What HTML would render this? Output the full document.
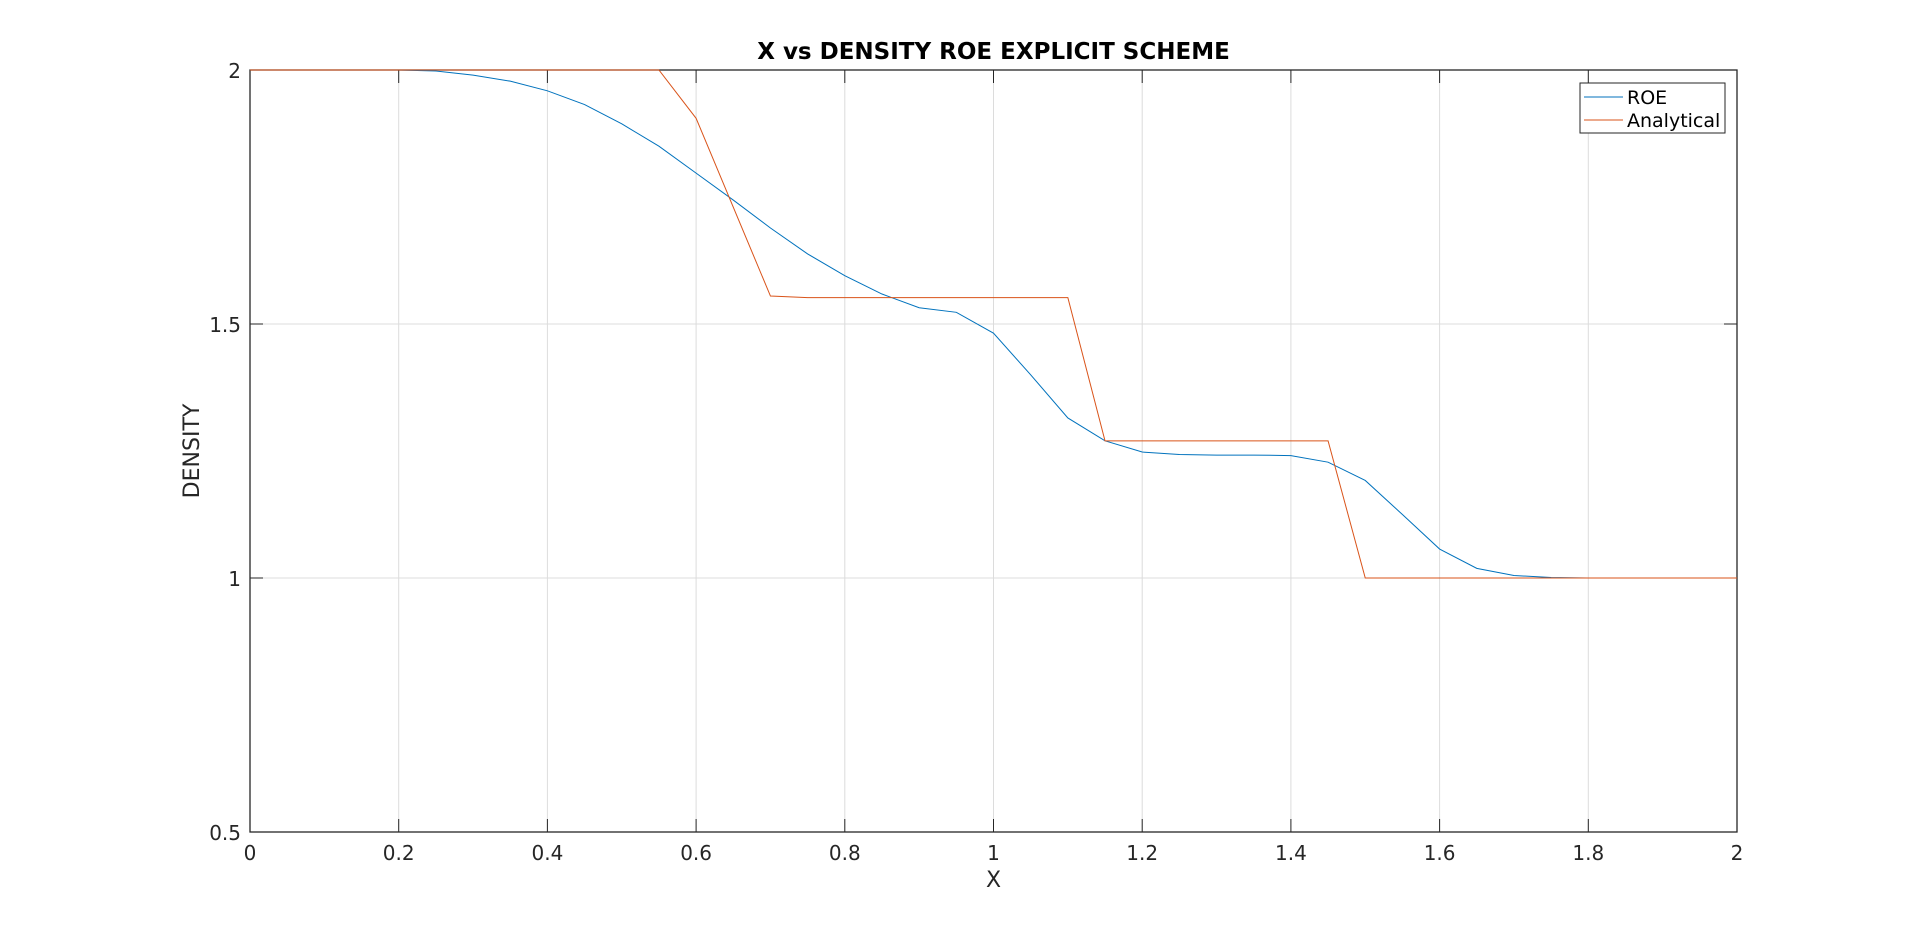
<!DOCTYPE html>
<html><head><meta charset="utf-8"><style>
body{margin:0;background:#fff;}
svg{display:block;font-family:"DejaVu Sans","Liberation Sans",sans-serif;}
</style></head><body>
<svg id="chart" width="1920" height="936"></svg>
<script>
const xTicks=[0,0.2,0.4,0.6,0.8,1,1.2,1.4,1.6,1.8,2];
const xTickLabels=["0","0.2","0.4","0.6","0.8","1","1.2","1.4","1.6","1.8","2"];
const yTicks=[0.5,1,1.5,2];
const yTickLabels=["0.5","1","1.5","2"];
const roeX=[0,0.05,0.1,0.15,0.2,0.25,0.3,0.35,0.4,0.45,0.5,0.55,0.6,0.65,0.7,0.75,0.8,0.85,0.9,0.95,1,1.05,1.1,1.15,1.2,1.25,1.3,1.35,1.4,1.45,1.5,1.55,1.6,1.65,1.7,1.75,1.8,1.85,1.9,1.95,2];
const roeY=[2,2,2,2,2,1.998,1.99,1.978,1.959,1.932,1.894,1.85,1.797,1.744,1.689,1.638,1.595,1.559,1.532,1.523,1.482,1.4,1.315,1.27,1.248,1.243,1.242,1.242,1.241,1.228,1.192,1.125,1.057,1.019,1.005,1.001,1,1,1,1,1];
const anaX=[0,0.55,0.6,0.7,0.75,1.1,1.15,1.45,1.5,2];
const anaY=[2,2,1.905,1.555,1.552,1.552,1.27,1.27,1,1];

const L=250,R=1737,T=70,B=832;
const sx=v=>L+(v-0)/(2-0)*(R-L);
const sy=v=>B-(v-0.5)/(2-0.5)*(B-T);
const svg=document.getElementById('chart');
const NS='http://www.w3.org/2000/svg';
function mk(tag,attrs,parent){const e=document.createElementNS(NS,tag);for(const k in attrs)e.setAttribute(k,attrs[k]);(parent||svg).appendChild(e);return e;}

xTicks.forEach((v,i)=>{
  const g=mk('line',{x1:sx(v),x2:sx(v),y1:T,y2:B,stroke:'#dcdcdc','stroke-width':1});
  
  
  mk('line',{x1:sx(v),x2:sx(v),y1:B,y2:B-13,stroke:'#262626'});
  mk('line',{x1:sx(v),x2:sx(v),y1:T,y2:T+13,stroke:'#262626'});
  const t=mk('text',{x:sx(v),y:B+28,'text-anchor':'middle','font-size':'20',fill:'#262626'});
  t.textContent=xTickLabels[i];
  
  
});
yTicks.forEach((v,i)=>{
  const g=mk('line',{x1:L,x2:R,y1:sy(v),y2:sy(v),stroke:'#dcdcdc','stroke-width':1});
  
  
  mk('line',{x1:L,x2:L+13,y1:sy(v),y2:sy(v),stroke:'#262626'});
  mk('line',{x1:R,x2:R-13,y1:sy(v),y2:sy(v),stroke:'#262626'});
  const t=mk('text',{x:L-9,y:sy(v)+8,'text-anchor':'end','font-size':'20',fill:'#262626'});
  t.textContent=yTickLabels[i];
  
  
});
const box=mk('rect',{x:L,y:T,width:R-L,height:B-T,fill:'none',stroke:'#262626','stroke-width':1.3});



const p1=mk('polyline',{points:roeX.map((x,i)=>sx(x)+','+sy(roeY[i])).join(' '),fill:'none',stroke:'#0072bd','stroke-width':1});


const p2=mk('polyline',{points:anaX.map((x,i)=>sx(x)+','+sy(anaY[i])).join(' '),fill:'none',stroke:'#d95319','stroke-width':1});



const title=mk('text',{x:(L+R)/2,y:59,'text-anchor':'middle','font-size':'23','font-weight':'bold',fill:'#000'});
title.textContent='X vs DENSITY ROE EXPLICIT SCHEME';


const xl=mk('text',{x:(L+R)/2,y:887,'text-anchor':'middle','font-size':'22',fill:'#262626'});
xl.textContent='X';


const yl=mk('text',{x:0,y:0,'text-anchor':'middle','font-size':'22',fill:'#262626',transform:'translate(199,'+((T+B)/2)+') rotate(-90)'});
yl.textContent='DENSITY';



const lg=mk('g',{});


mk('rect',{x:1580,y:83,width:145,height:50,fill:'#fff',stroke:'#262626','stroke-width':1},lg);
mk('line',{x1:1584,x2:1623,y1:97,y2:97,stroke:'#0072bd'},lg);
mk('line',{x1:1584,x2:1623,y1:120,y2:120,stroke:'#d95319'},lg);
const t1=mk('text',{x:1627,y:104,'font-size':'19',fill:'#000'},lg);t1.textContent='ROE';


const t2=mk('text',{x:1627,y:127,'font-size':'19',fill:'#000'},lg);t2.textContent='Analytical';


</script>
</body></html>
